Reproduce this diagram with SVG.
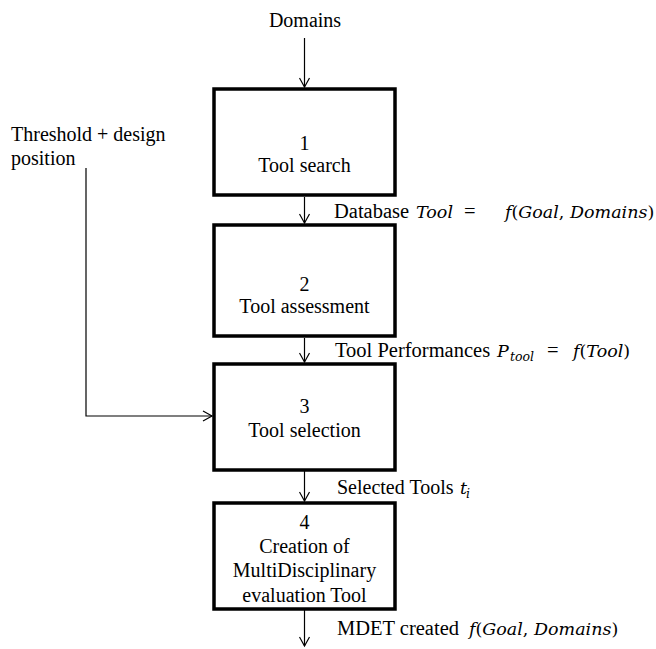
<svg xmlns="http://www.w3.org/2000/svg" width="656" height="649" viewBox="0 0 656 649">
<style>
text{font-family:"Liberation Serif","Times New Roman",serif;font-size:20px;fill:#000}
.c{text-anchor:middle}
.l{font-size:20.5px}
.m{font-family:"DejaVu Serif","Liberation Serif",serif;font-style:italic;font-size:17.5px}
.u{font-style:normal}
.s{font-family:"DejaVu Serif","Liberation Serif",serif;font-style:italic;font-size:12.5px}
.box{fill:#fff;stroke:#000;stroke-width:3.5}
.ln{fill:none;stroke:#000;stroke-width:1.2}
</style>
<defs>
<marker id="ah" markerWidth="12" markerHeight="12" refX="10" refY="6" orient="auto" markerUnits="userSpaceOnUse">
<path d="M1,1 L10,6 L1,11" fill="none" stroke="#000" stroke-width="1.2"/>
</marker>
</defs>
<rect width="656" height="649" fill="#fff"/>
<g id="connectors">
<line class="ln" x1="304.5" y1="38" x2="304.5" y2="87" marker-end="url(#ah)"/>
<line class="ln" x1="304.5" y1="197" x2="304.5" y2="223" marker-end="url(#ah)"/>
<line class="ln" x1="304.5" y1="338" x2="304.5" y2="362" marker-end="url(#ah)"/>
<line class="ln" x1="304.5" y1="471" x2="304.5" y2="501" marker-end="url(#ah)"/>
<line class="ln" x1="304.5" y1="610" x2="304.5" y2="646" marker-end="url(#ah)"/>
<polyline class="ln" points="86,168 86,416 212,416" marker-end="url(#ah)"/>
</g>
<g id="labels">
<text class="c" x="305" y="27">Domains</text>
<text x="11" y="141">Threshold + design</text>
<text x="11" y="165">position</text>
<text class="l" x="334" y="218">Database</text>
<text class="m" x="416" y="218">Tool</text>
<text class="l" x="464" y="218">=</text>
<text class="m" x="505" y="218">f<tspan class="u">(</tspan>Goal<tspan class="u">,</tspan> Domains<tspan class="u">)</tspan></text>
<text class="l" x="335" y="357">Tool Performances</text>
<text class="m" x="497" y="357">P</text>
<text class="s" x="510" y="361">tool</text>
<text class="l" x="547" y="357">=</text>
<text class="m" x="573" y="357">f<tspan class="u">(</tspan>Tool<tspan class="u">)</tspan></text>
<text x="337" y="494">Selected Tools</text>
<text class="m" x="460" y="494">t</text>
<text class="s" x="466" y="498">i</text>
<text class="l" x="337" y="635">MDET created</text>
<text class="m" x="469" y="635">f<tspan class="u">(</tspan>Goal<tspan class="u">,</tspan> Domains<tspan class="u">)</tspan></text>
</g>
<g id="node1">
<rect class="box" x="214" y="89" width="181" height="106"/>
<text class="c" x="304.5" y="150">1</text>
<text class="c" x="304.5" y="172">Tool search</text>
</g>
<g id="node2">
<rect class="box" x="214" y="225" width="181" height="111"/>
<text class="c" x="304.5" y="291">2</text>
<text class="c" x="304.5" y="313">Tool assessment</text>
</g>
<g id="node3">
<rect class="box" x="214" y="364" width="181" height="106"/>
<text class="c" x="304.5" y="413">3</text>
<text class="c" x="304.5" y="437">Tool selection</text>
</g>
<g id="node4">
<rect class="box" x="214" y="503" width="181" height="106"/>
<text class="c" x="304.5" y="529">4</text>
<text class="c" x="304.5" y="553">Creation of</text>
<text class="c" x="304.5" y="577">MultiDisciplinary</text>
<text class="c" x="304.5" y="602">evaluation Tool</text>
</g>
</svg>
